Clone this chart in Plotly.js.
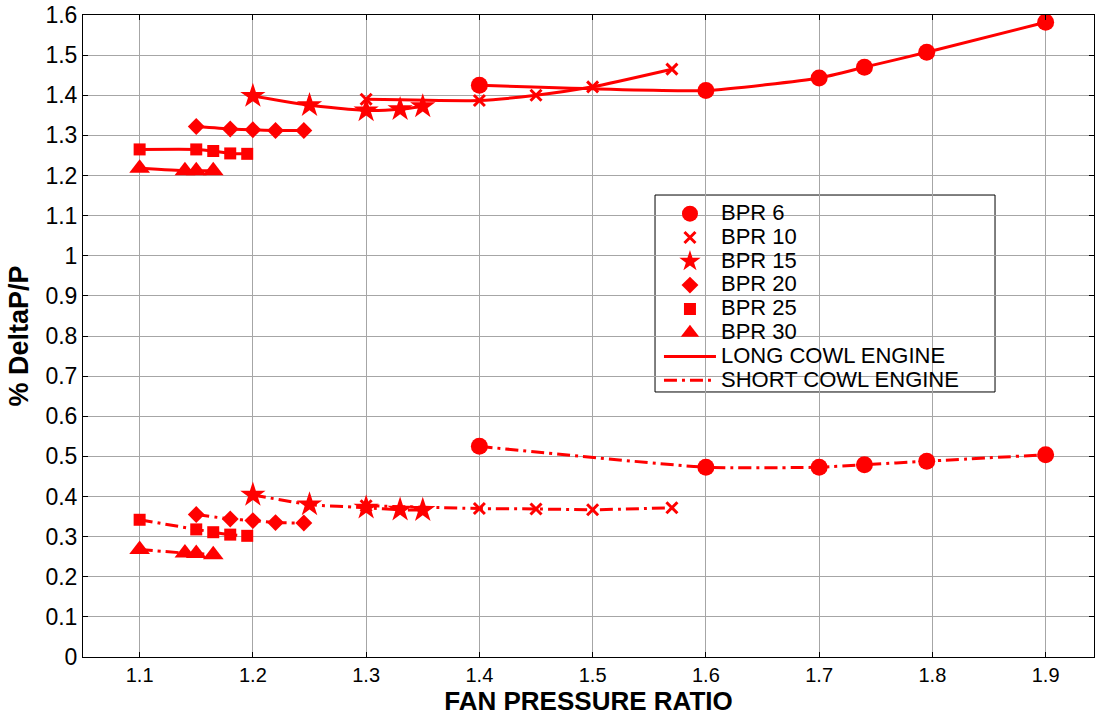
<!DOCTYPE html>
<html>
<head>
<meta charset="utf-8">
<script src="https://cdn.plot.ly/plotly-3.0.1.min.js"></script>
<style>html,body{margin:0;padding:0;background:#fff;}#chart{width:1096px;height:721px;}</style>
</head>
<body>
<div id="chart"></div>
<script>
// ---- data ----
var x6 = [1.4, 1.6, 1.7, 1.74, 1.795, 1.9];
var long6 = [1.425, 1.412, 1.443, 1.470, 1.507, 1.582];
var short6 = [0.525, 0.473, 0.473, 0.479, 0.488, 0.504];

var x10 = [1.3, 1.4, 1.45, 1.5, 1.57];
var long10 = [1.390, 1.387, 1.400, 1.421, 1.465];
var short10 = [0.377, 0.370, 0.369, 0.367, 0.372];

var x15 = [1.2, 1.25, 1.3, 1.33, 1.35];
var long15 = [1.398, 1.375, 1.362, 1.365, 1.372];
var short15 = [0.404, 0.380, 0.372, 0.367, 0.366];

var x20 = [1.15, 1.18, 1.2, 1.22, 1.245];
var long20 = [1.322, 1.316, 1.314, 1.312, 1.312];
var short20 = [0.355, 0.344, 0.340, 0.335, 0.334];

var x25 = [1.1, 1.15, 1.165, 1.18, 1.195];
var long25 = [1.265, 1.265, 1.261, 1.255, 1.254];
var short25 = [0.342, 0.318, 0.311, 0.305, 0.302];

var x30 = [1.1, 1.14, 1.15, 1.165];
var long30 = [1.218, 1.212, 1.212, 1.212];
var short30 = [0.268, 0.259, 0.258, 0.255];

var bprNames = ['BPR 6', 'BPR 10', 'BPR 15', 'BPR 20', 'BPR 25', 'BPR 30'];
var lineNames = ['LONG COWL ENGINE', 'SHORT COWL ENGINE'];
var xTitle = 'FAN PRESSURE RATIO';
var yTitle = '% DeltaP/P';

// ---- styling ----
var RED = '#ff0000';
var markerStyles = [
  {symbol: 'circle', size: 17, color: RED},
  {symbol: 'x-thin', size: 11, color: RED, line: {color: RED, width: 3}},
  {symbol: 'star', size: 19, color: RED},
  {symbol: 'diamond', size: 13, color: RED},
  {symbol: 'square', size: 12, color: RED},
  {symbol: 'triangle-up', size: 18, color: RED}
];
var DASHDOT = '13px,5px,3px,5px';

function big(t) { return '<span style="font-size:22px">' + t + '</span>'; }

var xs = [x6, x10, x15, x20, x25, x30];
var longs = [long6, long10, long15, long20, long25, long30];
var shorts = [short6, short10, short15, short20, short25, short30];

var traces = [];
for (var i = 0; i < xs.length; i++) {
  traces.push({x: xs[i], y: longs[i], type: 'scatter', mode: 'lines+markers',
    line: {color: RED, width: 3, shape: 'spline', smoothing: 0.5},
    marker: markerStyles[i], showlegend: false, hoverinfo: 'x+y'});
  traces.push({x: xs[i], y: shorts[i], type: 'scatter', mode: 'lines+markers',
    line: {color: RED, width: 3, dash: DASHDOT, shape: 'spline', smoothing: 0.5},
    marker: markerStyles[i], showlegend: false, hoverinfo: 'x+y'});
}
// legend entries
for (var j = 0; j < bprNames.length; j++) {
  traces.push({x: [null], y: [null], type: 'scatter', mode: 'markers', name: big(bprNames[j]),
    marker: markerStyles[j], showlegend: true});
}
traces.push({x: [null], y: [null], type: 'scatter', mode: 'lines', name: big(lineNames[0]),
  line: {color: RED, width: 3}, showlegend: true});
traces.push({x: [null], y: [null], type: 'scatter', mode: 'lines', name: big(lineNames[1]),
  line: {color: RED, width: 3, dash: DASHDOT}, showlegend: true});

var FONT = 'Liberation Sans, Arial, sans-serif';
var layout = {
  width: 1096, height: 721,
  margin: {l: 83, r: 2, t: 15, b: 64},
  paper_bgcolor: '#ffffff', plot_bgcolor: '#ffffff',
  font: {family: FONT, color: '#000'},
  xaxis: {
    range: [1.05, 1.9427], tick0: 1.1, dtick: 0.1,
    ticks: 'inside', ticklen: 5, tickcolor: '#000',
    showline: true, linecolor: '#000', linewidth: 1, mirror: 'ticks',
    showgrid: true, gridcolor: '#a6a6a6', gridwidth: 1, zeroline: false,
    tickfont: {size: 20, family: FONT},
    title: {text: xTitle, font: {size: 26, family: FONT, weight: 'bold'}, standoff: 6}
  },
  yaxis: {
    range: [0, 1.6], tick0: 0, dtick: 0.1,
    ticks: 'inside', ticklen: 5, tickcolor: '#000',
    showline: true, linecolor: '#000', linewidth: 1, mirror: 'ticks',
    showgrid: true, gridcolor: '#a6a6a6', gridwidth: 1, zeroline: false,
    tickfont: {size: 23, family: FONT},
    title: {text: yTitle, font: {size: 27, family: FONT, weight: 'bold'}, standoff: 8}
  },
  shapes: [{
    type: 'rect', xref: 'paper', yref: 'paper',
    x0: 0.5658, x1: 0.9021, y0: 0.4128, y1: 0.7196,
    fillcolor: '#ffffff', line: {color: '#000', width: 1}, layer: 'between'
  }],
  legend: {
    x: 0.5697, y: 0.7168, xanchor: 'left', yanchor: 'top',
    bgcolor: 'rgba(0,0,0,0)', borderwidth: 0,
    font: {size: 16, family: FONT, color: '#000'},
    itemwidth: 52, tracegroupgap: 0
  },
  showlegend: true
};

Plotly.newPlot('chart', traces, layout, {displayModeBar: false, staticPlot: true});
</script>
</body>
</html>
